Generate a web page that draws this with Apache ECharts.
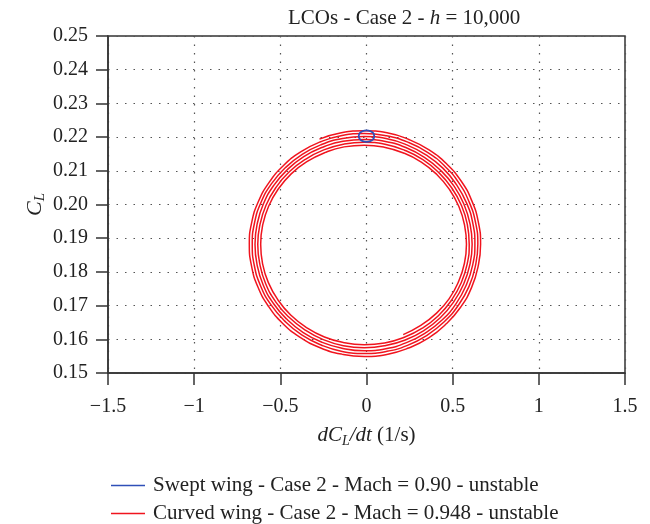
<!DOCTYPE html>
<html>
<head>
<meta charset="utf-8">
<script src="https://cdn.jsdelivr.net/npm/echarts@6/dist/echarts.min.js"></script>
<style>
  html, body { margin: 0; padding: 0; background: #fff; }
  #chart { width: 650px; height: 524px; }
</style>
</head>
<body>
<div id="chart"></div>
<script>
// Phase-plane trajectories: lift coefficient vs. its time derivative
const seriesNames = [
  'Swept wing - Case 2 - Mach = 0.90 - unstable',
  'Curved wing - Case 2 - Mach = 0.948 - unstable'
];

// Swept wing: small limit cycle near the top of the curved-wing orbit
const sweptX = [0.045, 0.039, 0.0225, 0, -0.0225, -0.039, -0.045, -0.039, -0.0225, 0, 0.0225, 0.039, 0.045];
const sweptY = [0.2203, 0.2212, 0.2218, 0.2220, 0.2218, 0.2212, 0.2203, 0.2194, 0.2188, 0.2186, 0.2188, 0.2194, 0.2203];

// Curved wing: slowly growing orbit, one row per turn
const curvedX = [
  0.213, 0.315, 0.405, 0.479, 0.534, 0.568, 0.580, 0.569, 0.536, 0.481, 0.408, 0.318, 0.215, 0.103, -0.013, -0.130,
  -0.242, -0.346, -0.437, -0.512, -0.568, -0.602, -0.614, -0.603, -0.570, -0.514, -0.440, -0.348, -0.244, -0.131, -0.013, 0.105,
  0.219, 0.324, 0.417, 0.493, 0.549, 0.584, 0.596, 0.585, 0.551, 0.495, 0.419, 0.327, 0.221, 0.107, -0.013, -0.133,
  -0.248, -0.355, -0.448, -0.525, -0.583, -0.618, -0.631, -0.619, -0.585, -0.528, -0.451, -0.358, -0.251, -0.134, -0.013, 0.108,
  0.225, 0.333, 0.428, 0.506, 0.564, 0.600, 0.613, 0.601, 0.566, 0.509, 0.431, 0.336, 0.228, 0.110, -0.013, -0.136,
  -0.254, -0.364, -0.460, -0.539, -0.598, -0.634, -0.647, -0.635, -0.600, -0.541, -0.463, -0.367, -0.257, -0.137, -0.013, 0.112,
  0.232, 0.342, 0.440, 0.520, 0.579, 0.616, 0.629, 0.617, 0.581, 0.522, 0.443, 0.345, 0.234, 0.113, -0.013, -0.139,
  -0.261, -0.373, -0.471, -0.552, -0.613, -0.650, -0.663, -0.651, -0.615, -0.555, -0.474, -0.376, -0.263, -0.141, -0.013, 0.115,
  0.238, 0.351, 0.451, 0.533, 0.595, 0.632, 0.646, 0.633, 0.596, 0.536, 0.454, 0.354, 0.240, 0.116, -0.013, -0.142,
  -0.267, -0.382, -0.483, -0.566, -0.628, -0.666, -0.680, -0.667, -0.630, -0.569, -0.486, -0.385, -0.269, -0.144, -0.013, 0.118,
  0.244, 0.361, 0.463, 0.547, 0.610, 0.648, 0.662, 0.649, 0.611, 0.550, 0.466, 0.363, 0.246, 0.119, -0.013, -0.146,
  -0.273
];
const curvedY = [
  0.1614, 0.1641, 0.1677, 0.1720, 0.1771, 0.1825, 0.1882, 0.1939, 0.1994, 0.2045, 0.2089, 0.2126, 0.2153, 0.2170, 0.2176, 0.2171,
  0.2154, 0.2127, 0.2091, 0.2046, 0.1995, 0.1940, 0.1882, 0.1824, 0.1769, 0.1717, 0.1672, 0.1635, 0.1607, 0.1590, 0.1584, 0.1589,
  0.1606, 0.1633, 0.1670, 0.1716, 0.1767, 0.1823, 0.1882, 0.1941, 0.1997, 0.2049, 0.2095, 0.2133, 0.2161, 0.2179, 0.2185, 0.2179,
  0.2162, 0.2134, 0.2097, 0.2051, 0.1998, 0.1941, 0.1882, 0.1823, 0.1765, 0.1712, 0.1666, 0.1628, 0.1599, 0.1581, 0.1575, 0.1581,
  0.1598, 0.1626, 0.1664, 0.1711, 0.1764, 0.1822, 0.1882, 0.1942, 0.2000, 0.2054, 0.2101, 0.2140, 0.2169, 0.2187, 0.2193, 0.2188,
  0.2170, 0.2142, 0.2103, 0.2056, 0.2002, 0.1943, 0.1882, 0.1821, 0.1762, 0.1707, 0.1660, 0.1620, 0.1591, 0.1573, 0.1566, 0.1572,
  0.1590, 0.1619, 0.1658, 0.1706, 0.1761, 0.1820, 0.1882, 0.1944, 0.2004, 0.2059, 0.2108, 0.2147, 0.2177, 0.2196, 0.2202, 0.2196,
  0.2178, 0.2149, 0.2109, 0.2061, 0.2005, 0.1945, 0.1882, 0.1819, 0.1759, 0.1703, 0.1654, 0.1613, 0.1583, 0.1564, 0.1558, 0.1564,
  0.1582, 0.1612, 0.1652, 0.1701, 0.1757, 0.1818, 0.1882, 0.1946, 0.2007, 0.2064, 0.2114, 0.2155, 0.2185, 0.2204, 0.2211, 0.2205,
  0.2186, 0.2156, 0.2115, 0.2065, 0.2008, 0.1947, 0.1882, 0.1817, 0.1755, 0.1698, 0.1647, 0.1606, 0.1575, 0.1556, 0.1549, 0.1555,
  0.1574, 0.1604, 0.1646, 0.1696, 0.1754, 0.1817, 0.1882, 0.1948, 0.2011, 0.2069, 0.2120, 0.2162, 0.2193, 0.2213, 0.2219, 0.2213,
  0.2194
];

const seriesColors = ['#2f4fb8', '#f0141e'];

const FONT = '"Liberation Serif", "DejaVu Serif", serif';
const TEXT = '#222';
const AXIS = '#333';

const pairs = (xs, ys) => xs.map((x, i) => [x, ys[i]]);

const legendEntry = (name, top) => ({
  orient: 'vertical',
  left: 106,
  top: top,
  icon: 'rect',
  itemWidth: 34,
  itemHeight: 1.6,
  data: [name],
  textStyle: { fontFamily: FONT, fontSize: 21, color: TEXT, padding: [0, 0, 0, 3] }
});

const chart = echarts.init(document.getElementById('chart'), null, { renderer: 'canvas' });

const option = {
  animation: false,
  backgroundColor: '#fff',
  title: {
    text: '{n|LCOs - Case 2 - }{i|h}{n| = 10,000}',
    left: 283,
    top: 3,
    textStyle: {
      fontWeight: 'normal',
      rich: {
        n: { fontFamily: FONT, fontSize: 21, fontWeight: 'normal', color: TEXT },
        i: { fontFamily: FONT, fontSize: 21, fontWeight: 'normal', fontStyle: 'italic', color: TEXT }
      }
    }
  },
  grid: {
    left: 108, right: 25, top: 36, bottom: 151,
    show: true, borderColor: AXIS, borderWidth: 1.5, backgroundColor: 'transparent'
  },
  legend: [
    legendEntry(seriesNames[0], 470),
    legendEntry(seriesNames[1], 498)
  ],
  xAxis: {
    type: 'value',
    min: -1.5, max: 1.5, interval: 0.5,
    name: '{i|dC}{s|L}{i|/dt}{n| (1/s)}',
    nameLocation: 'middle',
    nameGap: 49,
    nameTextStyle: {
      rich: {
        i: { fontFamily: FONT, fontSize: 21, fontStyle: 'italic', color: TEXT, lineHeight: 26 },
        s: { fontFamily: FONT, fontSize: 14, fontStyle: 'italic', color: TEXT, lineHeight: 12, verticalAlign: 'bottom' },
        n: { fontFamily: FONT, fontSize: 21, color: TEXT, lineHeight: 26 }
      }
    },
    axisLine: { onZero: false, lineStyle: { color: AXIS, width: 1.5 } },
    axisTick: { length: 12, lineStyle: { color: AXIS, width: 1.5 } },
    axisLabel: {
      margin: 24,
      fontFamily: FONT, fontSize: 20, color: TEXT,
      formatter: v => String(v).replace('-', '\u2212')
    },
    splitLine: { show: true, lineStyle: { color: '#555', width: 1.2, type: [1.5, 7] } }
  },
  yAxis: {
    type: 'value',
    min: 0.15, max: 0.25, interval: 0.01,
    name: '{i|C}{s|L}',
    nameLocation: 'middle',
    nameRotate: 90,
    nameGap: 60,
    nameMoveOverlap: false,
    nameTextStyle: {
      rich: {
        i: { fontFamily: FONT, fontSize: 22, fontStyle: 'italic', color: TEXT, lineHeight: 26 },
        s: { fontFamily: FONT, fontSize: 15, fontStyle: 'italic', color: TEXT, lineHeight: 12, verticalAlign: 'bottom' }
      }
    },
    axisLine: { onZero: false, lineStyle: { color: AXIS, width: 1.5 } },
    axisTick: { length: 12, lineStyle: { color: AXIS, width: 1.5 } },
    axisLabel: {
      margin: 20,
      fontFamily: FONT, fontSize: 20, color: TEXT,
      formatter: v => v.toFixed(2)
    },
    splitLine: { show: true, lineStyle: { color: '#555', width: 1.2, type: [1.5, 7] } }
  },
  series: [
    {
      name: seriesNames[1],
      type: 'line',
      data: pairs(curvedX, curvedY),
      smooth: true,
      symbol: 'none',
      showSymbol: false,
      lineStyle: { color: seriesColors[1], width: 1.5 },
      itemStyle: { color: seriesColors[1] },
      z: 2
    },
    {
      name: seriesNames[0],
      type: 'line',
      data: pairs(sweptX, sweptY),
      smooth: true,
      symbol: 'none',
      showSymbol: false,
      lineStyle: { color: seriesColors[0], width: 1.8 },
      itemStyle: { color: seriesColors[0] },
      z: 3
    }
  ]
};

chart.setOption(option);
</script>
</body>
</html>
